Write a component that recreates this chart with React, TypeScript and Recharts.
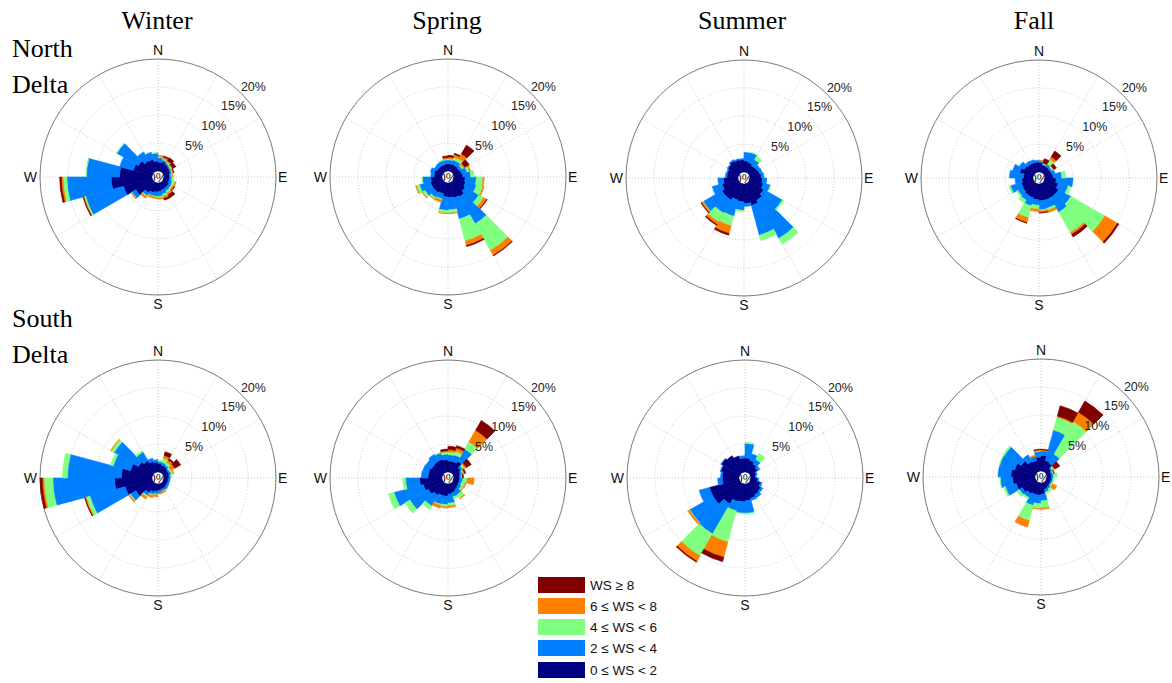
import React from 'react'
import {
  RadialBarChart,
  RadialBar,
  Cell,
  PolarGrid,
  PolarAngleAxis,
  PolarRadiusAxis,
} from 'recharts'

// direction bins (start of each 15 degree sector, clockwise from north)
const DIRECTIONS = [0, 15, 30, 45, 60, 75, 90, 105, 120, 135, 150, 165, 180, 195, 210, 225, 240, 255, 270, 285, 300, 315, 330, 345]

const SEASONS = ['Winter', 'Spring', 'Summer', 'Fall']
const REGIONS = ['North', 'South']

const CLASS_KEYS = ['ws0', 'ws2', 'ws4', 'ws6', 'ws8']
const CLASS_COLORS = ['#000080', '#0080ff', '#80ff80', '#ff8000', '#800000']
const CLASS_LABELS = ['0 \u2264 WS < 2', '2 \u2264 WS < 4', '4 \u2264 WS < 6', '6 \u2264 WS < 8', 'WS \u2265 8']

const RING_TICKS = [5, 10, 15, 20]
const SPOKES = [0, 30, 60, 90, 120, 150, 180, 210, 240, 270, 300, 330]
const CARDINALS: Record<number, string> = { 0: 'N', 90: 'E', 180: 'S', 270: 'W' }

// frequency (%) per direction bin and speed class
// North Delta - Winter
const WN_0_2 = [1.6, 1.8, 1.5, 1.3, 1.2, 1.0, 1.0, 1.0, 1.2, 1.2, 1.3, 1.5, 1.6, 1.8, 2.2, 3.5, 5.3, 7.3, 5.8, 3.5, 3.0, 2.3, 2.2, 1.8]
const WN_2_4 = [0.8, 0.3, 0.3, 0.3, 0.3, 0.3, 0.4, 0.6, 0.5, 0.6, 0.8, 0.9, 0.8, 0.6, 0.6, 0.8, 7.0, 7.9, 5.9, 2.5, 4.4, 1.8, 1.3, 1.4]
const WN_4_6 = [0.2, 0.2, 0.2, 0.2, 0.2, 0.2, 0.4, 0.5, 0.3, 0.4, 0.4, 0.3, 0.2, 0.1, 0.2, 0.1, 0.25, 0.7, 0.1, 0, 0.1, 0, 0, 0.1]
const WN_6_8 = [0.2, 0.3, 0.3, 0.2, 0.1, 0.1, 0, 0.2, 0.3, 0.4, 0.4, 0.2, 0.2, 0.3, 0.3, 0.1, 0.15, 0.3, 0, 0, 0, 0, 0, 0]
const WN_8UP = [0, 0.2, 0.6, 0.6, 0.1, 0, 0, 0, 0.1, 0.6, 0.3, 0, 0, 0, 0, 0, 0.1, 0.3, 0, 0, 0, 0, 0, 0]

// North Delta - Spring
const SN_0_2 = [1.3, 1.3, 1.3, 1.2, 1.4, 1.6, 2.0, 2.2, 2.5, 3.0, 2.8, 2.6, 2.5, 2.0, 2.2, 2.2, 2.2, 2.0, 1.4, 1.5, 1.2, 1.2, 1.2, 1.3]
const SN_2_4 = [0.7, 0.8, 0.8, 0.6, 1.0, 1.4, 2.0, 2.0, 2.8, 5.6, 3.9, 2.2, 2.4, 1.0, 1.0, 1.5, 2.0, 1.5, 0.6, 0.7, 0.6, 0.7, 0.8, 0.7]
const SN_4_6 = [0.2, 0.5, 0.6, 0.3, 0.5, 0.6, 1.2, 1.2, 1.0, 5.5, 4.1, 0.6, 0.5, 0.2, 0.3, 0.5, 0.6, 0.1, 0, 0, 0, 0, 0.1, 0.2]
const SN_6_8 = [0.3, 0.5, 1.0, 0.3, 0.2, 0, 0.2, 0.2, 0.6, 1.0, 0.8, 0.1, 0.1, 0.4, 0.1, 0.1, 0.1, 0, 0, 0, 0, 0, 0, 0.2]
const SN_8UP = [0.3, 0.2, 1.8, 0.9, 0, 0, 0, 0, 0.1, 0.1, 0.2, 0, 0, 0, 0, 0, 0, 0, 0, 0, 0, 0, 0, 0.3]

// North Delta - Summer
const UN_0_2 = [2.0, 1.8, 1.5, 1.6, 1.8, 2.0, 2.2, 2.5, 3.0, 3.5, 4.0, 3.5, 3.2, 3.0, 3.5, 3.5, 3.0, 2.6, 2.0, 2.0, 2.2, 2.5, 2.3, 2.2]
const UN_2_4 = [1.5, 1.8, 1.2, 0.6, 0.5, 0.5, 0.8, 1.3, 3.8, 7.9, 5.5, 0.5, 1.5, 3.0, 2.7, 3.8, 1.8, 1.0, 0.3, 0.2, 0.2, 0.2, 0.2, 0.2]
const UN_4_6 = [0, 0.1, 0.7, 0, 0, 0, 0, 0.1, 0.3, 1.2, 1.0, 0, 0.2, 1.8, 1.8, 0.1, 0, 0, 0, 0, 0, 0, 0, 0]
const UN_6_8 = [0, 0, 0, 0, 0, 0, 0, 0, 0, 0, 0, 0, 0, 1.4, 0.5, 0.3, 0, 0, 0, 0, 0, 0, 0, 0]
const UN_8UP = [0, 0, 0, 0, 0, 0, 0, 0, 0, 0, 0, 0, 0, 0.3, 0.2, 0.1, 0, 0, 0, 0, 0, 0, 0, 0]

// North Delta - Fall
const FN_0_2 = [1.7, 1.3, 1.3, 1.2, 1.3, 1.5, 2.0, 2.5, 3.0, 3.0, 3.0, 3.0, 2.8, 2.6, 2.5, 2.3, 2.2, 2.0, 1.7, 2.5, 2.0, 1.8, 1.8, 1.8]
const FN_2_4 = [0.3, 0.2, 0.5, 0.4, 0.6, 1.5, 3.0, 1.8, 2.5, 3.0, 1.5, 1.6, 1.0, 1.5, 1.0, 1.0, 2.0, 1.2, 2.5, 1.3, 1.0, 0.6, 0.5, 0.3]
const FN_4_6 = [0, 0.1, 1.0, 0.3, 0, 0.7, 0, 0.5, 7.0, 4.2, 0.4, 0.2, 0.7, 2.2, 0.6, 0.3, 0.3, 0, 0, 0, 0, 0, 0, 0]
const FN_6_8 = [0.1, 0.1, 0.5, 0.1, 0, 0, 0, 0, 2.6, 0.4, 0.4, 0.3, 0.4, 0.9, 0, 0, 0, 0, 0, 0, 0, 0, 0, 0]
const FN_8UP = [0, 0.8, 1.2, 0.5, 0, 0, 0, 0, 0.3, 0.5, 0, 0.1, 0, 0.1, 0, 0, 0, 0, 0, 0, 0, 0, 0, 0]

// South Delta - Winter
const WS_0_2 = [1.5, 1.3, 1.2, 1.0, 1.0, 0.9, 0.8, 0.8, 0.8, 1.0, 1.0, 1.1, 1.3, 1.5, 2.0, 3.5, 5.0, 6.7, 5.5, 4.0, 3.0, 2.5, 2.0, 1.8]
const WS_2_4 = [0.4, 0.5, 0.4, 0.3, 0.4, 0.3, 0.3, 0.3, 0.4, 0.4, 0.4, 0.5, 0.5, 0.5, 0.6, 1.1, 6.5, 11.0, 9.6, 3.2, 5.0, 1.8, 0.6, 0.4]
const WS_4_6 = [0.2, 0.8, 0.5, 0.3, 0.4, 0.2, 0, 0, 0, 0.1, 0.1, 0, 0.2, 0.2, 0.3, 0.2, 0.7, 1.6, 0.9, 0.5, 0.6, 0.3, 0, 0]
const WS_6_8 = [0, 0.5, 0.5, 0.8, 0.1, 0, 0, 0, 0, 0, 0.2, 0.2, 0.3, 0.4, 0.4, 0.2, 0.2, 0.3, 0, 0, 0.1, 0, 0, 0]
const WS_8UP = [0, 0.7, 0.3, 1.2, 0, 0, 0, 0, 0, 0, 0, 0, 0, 0, 0, 0, 0.1, 0.4, 0, 0, 0, 0, 0, 0]

// South Delta - Spring
const PS_0_2 = [2.0, 2.0, 2.4, 1.5, 1.2, 1.0, 1.0, 1.0, 1.1, 1.3, 1.6, 1.8, 2.2, 2.2, 2.5, 3.0, 3.5, 4.0, 2.5, 2.5, 2.3, 2.4, 2.4, 2.2]
const PS_2_4 = [1.1, 1.2, 2.5, 0.5, 0.4, 0.3, 0.6, 0.5, 0.6, 1.0, 0.8, 1.6, 1.5, 1.6, 2.2, 3.8, 5.4, 2.5, 1.2, 1.1, 1.2, 1.4, 1.2, 1.0]
const PS_4_6 = [0.5, 0.7, 1.5, 0.4, 0.2, 0.2, 0.8, 0.6, 0.4, 0.8, 0.4, 0.5, 0.4, 0.2, 0.7, 1.0, 1.0, 0.5, 0, 0, 0, 0, 0.1, 0.4]
const PS_6_8 = [0.4, 0.6, 2.4, 0.3, 0.2, 0, 1.2, 0.2, 0.1, 0.1, 0, 0.3, 0.2, 0.5, 0, 0, 0, 0, 0, 0, 0, 0, 0, 0.2]
const PS_8UP = [0.6, 0.4, 2.0, 1.0, 0.2, 0.2, 0, 0, 0, 0, 0, 0, 0, 0, 0, 0, 0, 0, 0, 0, 0, 0, 0, 0.3]

// South Delta - Summer
const US_0_2 = [2.5, 2.2, 1.8, 1.5, 1.0, 0.8, 1.2, 1.8, 2.2, 2.4, 2.7, 3.0, 3.2, 3.3, 4.3, 5.5, 5.5, 3.0, 3.0, 3.4, 3.8, 3.5, 3.0, 2.5]
const US_2_4 = [2.6, 1.2, 1.0, 0.5, 0.2, 0.2, 0.2, 0.3, 0.4, 0.6, 0.4, 2.2, 2.0, 1.7, 6.2, 4.8, 1.9, 0.8, 0.3, 0.1, 0.1, 0, 0, 0.4]
const US_4_6 = [0.2, 0, 1.2, 0, 0, 0, 0, 0, 0, 0, 0, 0.2, 0.1, 5.8, 4.5, 0.1, 0, 0, 0, 0, 0, 0, 0, 0]
const US_6_8 = [0, 0, 0, 0, 0, 0, 0, 0, 0, 0, 0, 0, 0, 2.8, 1.1, 0.3, 0, 0, 0, 0, 0, 0, 0, 0]
const US_8UP = [0, 0, 0, 0, 0, 0, 0, 0, 0, 0, 0, 0, 0, 0.8, 0.2, 0, 0, 0, 0, 0, 0, 0, 0, 0]

// South Delta - Fall
const FS_0_2 = [2.8, 2.0, 1.8, 1.0, 0.8, 0.8, 0.8, 0.8, 0.8, 1.0, 1.2, 2.0, 2.2, 2.2, 2.4, 2.8, 3.5, 4.0, 4.3, 3.8, 3.0, 2.2, 2.0, 2.5]
const FS_2_4 = [0.8, 5.6, 1.8, 0.3, 0.3, 0.4, 0.3, 0.3, 0.3, 0.4, 0.5, 1.2, 1.5, 2.0, 0.8, 0.6, 2.0, 2.2, 2.3, 2.8, 3.5, 1.3, 0.8, 1.0]
const FS_4_6 = [0, 2.4, 6.8, 0.3, 0.2, 0.6, 0.2, 0.2, 0.3, 0.5, 0.3, 1.3, 0.9, 2.8, 0.3, 0.5, 0.3, 0.1, 0, 0.1, 0.3, 0, 0, 0.1]
const FS_6_8 = [0.2, 0.2, 1.9, 0.2, 0, 0, 0, 0, 0.8, 0, 0, 0.2, 0.1, 1.2, 0, 0, 0, 0, 0, 0, 0, 0, 0.2, 0.2]
const FS_8UP = [0.1, 1.9, 2.3, 1.0, 0.1, 0, 0, 0, 0, 0, 0, 0, 0, 0, 0, 0, 0, 0, 0, 0, 0, 0, 0, 0.1]

const PANELS = [
  { x: 158, y: 177, series: [WN_0_2, WN_2_4, WN_4_6, WN_6_8, WN_8UP] },
  { x: 448, y: 177, series: [SN_0_2, SN_2_4, SN_4_6, SN_6_8, SN_8UP] },
  { x: 744, y: 178, series: [UN_0_2, UN_2_4, UN_4_6, UN_6_8, UN_8UP] },
  { x: 1039, y: 178, series: [FN_0_2, FN_2_4, FN_4_6, FN_6_8, FN_8UP] },
  { x: 158, y: 478, series: [WS_0_2, WS_2_4, WS_4_6, WS_6_8, WS_8UP] },
  { x: 448, y: 478, series: [PS_0_2, PS_2_4, PS_4_6, PS_6_8, PS_8UP] },
  { x: 745, y: 478, series: [US_0_2, US_2_4, US_4_6, US_6_8, US_8UP] },
  { x: 1041, y: 477, series: [FS_0_2, FS_2_4, FS_4_6, FS_6_8, FS_8UP] },
]

const SIZE = 290
const C = SIZE / 2
const SANS = '"Liberation Sans", Arial, Helvetica, sans-serif'
const SERIF = '"Liberation Serif", "Times New Roman", serif'

// label the angle ticks that fall on a compass point
const CardinalTick = (props: any) => {
  const { x, y, payload, textAnchor } = props
  const compass = (((90 - payload.coordinate) % 360) + 360) % 360
  const key = Object.keys(CARDINALS).find((k) => {
    const d = Math.abs(compass - Number(k))
    return d < 2 || Math.abs(d - 360) < 2
  })
  if (key === undefined) return <g />
  const shiftX = textAnchor === 'start' ? -6 : textAnchor === 'end' ? 5 : 0
  const shiftY = key === '0' ? -1 : key === '180' ? 1 : 0
  return (
    <text x={x + shiftX} y={y + shiftY} textAnchor={textAnchor} dominantBaseline="central" fontSize={14} fontFamily={SANS} fill="#111">
      {CARDINALS[Number(key)]}
    </text>
  )
}

const RingTick = (props: any) => {
  const { x, y, payload } = props
  return (
    <text x={x + 12} y={y - 3} textAnchor="middle" fontSize={12.5} fontFamily={SANS} fill="#222">
      {payload.value}%
    </text>
  )
}

function Rose({ series }: { series: number[][] }) {
  const data = DIRECTIONS.map((dir, i) => {
    const row: Record<string, number> = { dir }
    CLASS_KEYS.forEach((k, j) => {
      row[k] = series[j][i]
    })
    return row
  })

  return (
    <RadialBarChart
      width={SIZE}
      height={SIZE}
      cx={C}
      cy={C}
      innerRadius={6}
      outerRadius={118}
      startAngle={75}
      endAngle={-285}
      layout="centric"
      data={data}
      barCategoryGap={0}
      barGap={0}
      margin={{ top: 0, right: 0, bottom: 0, left: 0 }}
    >
      <PolarGrid
        gridType="circle"
        polarAngles={SPOKES.map((d) => 90 - d)}
        stroke="#bdbdbd"
        strokeDasharray="1 2"
        strokeWidth={0.8}
      />
      <PolarGrid gridType="circle" radialLines={false} polarAngles={[]} polarRadius={[118]} stroke="#808080" strokeWidth={1} />
      <PolarAngleAxis dataKey="dir" type="category" axisLine={false} tickLine={false} tick={CardinalTick} />
      {CLASS_KEYS.map((k, j) => (
        <RadialBar key={k} dataKey={k} stackId="ws" fill={CLASS_COLORS[j]} isAnimationActive={false}>
          {data.map((row, i) => (
            <Cell
              key={i}
              fill={CLASS_COLORS[j]}
              stroke={row[k] > 0 ? CLASS_COLORS[j] : 'none'}
              strokeWidth={row[k] > 0 ? 0.6 : 0}
            />
          ))}
        </RadialBar>
      ))}
      <PolarRadiusAxis
        type="number"
        domain={[0, 20]}
        allowDataOverflow
        ticks={RING_TICKS}
        angle={45}
        axisLine={false}
        tickLine={false}
        tick={RingTick}
      />
      <text x={C} y={C} textAnchor="middle" dominantBaseline="central" fontSize={13} fontFamily={SANS} fill="#222">
        0%
      </text>
    </RadialBarChart>
  )
}

const LEGEND_TOPS = [577, 598, 619, 640, 662]

export default function App() {
  return (
    <div style={{ position: 'absolute', left: 0, top: 0, width: 1172, height: 683, background: '#fff', overflow: 'hidden' }}>
      <svg width={1172} height={683} style={{ position: 'absolute', left: 0, top: 0 }}>
        {SEASONS.map((s, i) => (
          <text key={s} x={[157, 447, 742, 1034][i]} y={29} textAnchor="middle" fontSize={26} fontFamily={SERIF} fill="#000">
            {s}
          </text>
        ))}
        {REGIONS.map((r, i) => (
          <g key={r} fontSize={26} fontFamily={SERIF} fill="#000">
            <text x={12} y={[57, 327][i]}>{r}</text>
            <text x={12} y={[93, 363][i]}>Delta</text>
          </g>
        ))}
        {CLASS_LABELS.slice().reverse().map((label, i) => (
          <g key={label}>
            <rect x={538} y={LEGEND_TOPS[i]} width={47} height={16} fill={CLASS_COLORS[4 - i]} />
            <text x={590} y={LEGEND_TOPS[i] + 13} fontSize={13.5} fontFamily={SANS} fill="#111">
              {label}
            </text>
          </g>
        ))}
      </svg>
      {PANELS.map((p, i) => (
        <div key={i} style={{ position: 'absolute', left: p.x - C, top: p.y - C, width: SIZE, height: SIZE }}>
          <Rose series={p.series} />
        </div>
      ))}
    </div>
  )
}
